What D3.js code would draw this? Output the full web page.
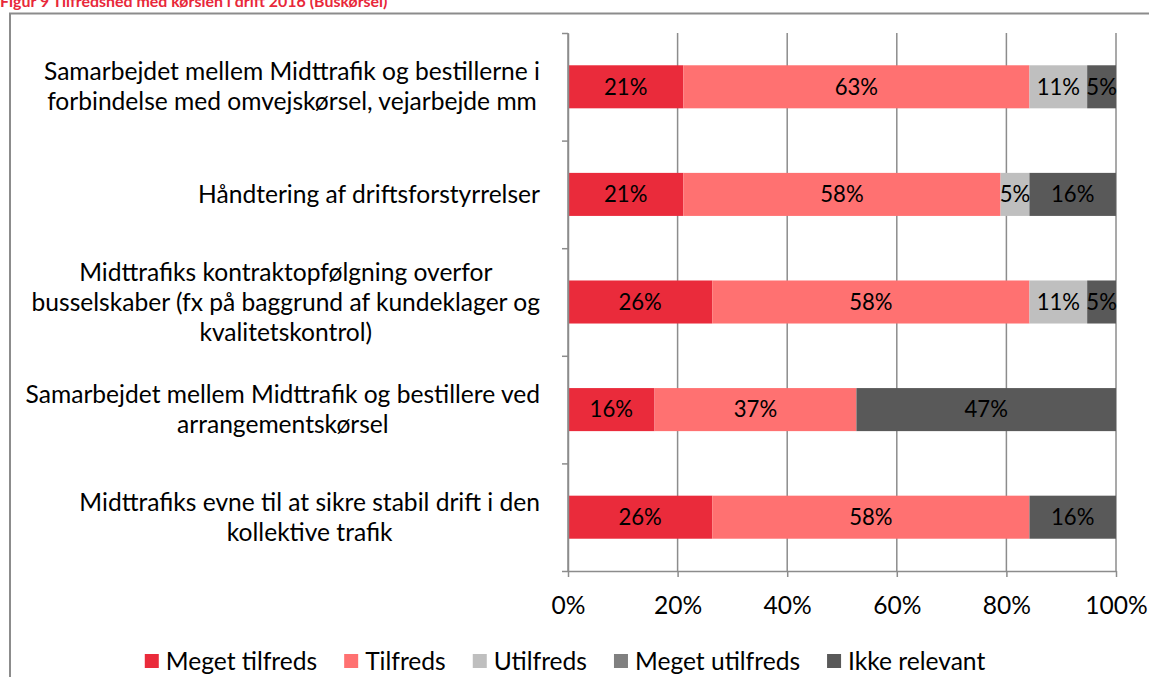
<!DOCTYPE html>
<html>
<head>
<meta charset="utf-8">
<script src="https://cdn.jsdelivr.net/npm/d3@7"></script>
<style>
  html, body { margin: 0; padding: 0; background: #fff; }
  svg { display: block; }
</style>
</head>
<body>
<svg id="chart" width="1149" height="677"></svg>
<script>
// ---- data ----
const titleText = "Figur 9 Tilfredshed med kørslen i drift 2016 (Buskørsel)";
const categories = [
  ["Samarbejdet mellem Midttrafik og bestillerne i", "forbindelse med omvejskørsel, vejarbejde mm"],
  ["Håndtering af driftsforstyrrelser"],
  ["Midttrafiks kontraktopfølgning overfor", "busselskaber (fx på baggrund af kundeklager og", "kvalitetskontrol)"],
  ["Samarbejdet mellem Midttrafik og bestillere ved", "arrangementskørsel"],
  ["Midttrafiks evne til at sikre stabil drift i den", "kollektive trafik"]
];
const seriesNames = ["Meget tilfreds", "Tilfreds", "Utilfreds", "Meget utilfreds", "Ikke relevant"];
const megetTilfreds  = [21.05, 21.05, 26.32, 15.79, 26.32];
const tilfreds       = [63.16, 57.89, 57.89, 36.84, 57.89];
const utilfreds      = [10.53,  5.26, 10.53,  0.00,  0.00];
const megetUtilfreds = [ 0.00,  0.00,  0.00,  0.00,  0.00];
const ikkeRelevant   = [ 5.26, 15.79,  5.26, 47.37, 15.79];
const xTicks = [0, 20, 40, 60, 80, 100];
const seriesColors = ["#EA2B3B", "#FF7171", "#BFBFBF", "#808080", "#595959"];

// ---- build ----
const seriesValues = [megetTilfreds, tilfreds, utilfreds, megetUtilfreds, ikkeRelevant];
const table = categories.map((c, i) => {
  const row = { idx: i };
  seriesNames.forEach((s, j) => row[s] = seriesValues[j][i]);
  return row;
});
const stacked = d3.stack().keys(seriesNames)(table);

const svg = d3.select("#chart");
const FONT = "Lato, 'Open Sans', sans-serif";

function fitSize(str, weight, target) {
  const t = svg.append("text").style("font-family", FONT).style("font-weight", weight)
    .style("font-size", "100px").text(str);
  const w = t.node().getComputedTextLength();
  t.remove();
  return 100 * target / w;
}
const baseSize = (fitSize("Håndtering af driftsforstyrrelser", 400, 343) + fitSize("Meget tilfreds", 400, 151)) / 2;
const labelSize = baseSize * 0.9;
const titleSize = fitSize(titleText, 700, 388);

const plot = { left: 568, right: 1116, top: 33, bottom: 571 };
const axisColor = "#8C8C8C";

// frame
svg.append("rect")
  .attr("x", 10).attr("y", 13.5).attr("width", 1200).attr("height", 700)
  .attr("fill", "none").attr("stroke", axisColor).attr("stroke-width", 2);

// title
svg.append("text")
  .attr("x", 0).attr("y", 6.5)
  .style("font-family", FONT).style("font-weight", 700).style("font-size", titleSize + "px")
  .attr("fill", "#E8283A")
  .text(titleText);

const x = d3.scaleLinear().domain([0, 100]).range([plot.left, plot.right]);
const y = d3.scaleBand().domain(d3.range(categories.length))
  .range([plot.top, plot.bottom]).paddingInner(0.6).paddingOuter(0.3);
const yb = d3.scaleLinear().domain([0, categories.length]).range([plot.top, plot.bottom]);

// gridlines
svg.append("g").selectAll("line").data(xTicks).join("line")
  .attr("x1", d => x(d)).attr("x2", d => x(d))
  .attr("y1", plot.top).attr("y2", plot.bottom)
  .attr("stroke", axisColor).attr("stroke-width", 1.5);

// bars
const layer = svg.append("g").selectAll("g").data(stacked).join("g")
  .attr("fill", (d, i) => seriesColors[i]);
layer.selectAll("rect").data(d => d).join("rect")
  .attr("x", d => x(d[0]))
  .attr("width", d => x(d[1]) - x(d[0]))
  .attr("y", d => y(d.data.idx))
  .attr("height", y.bandwidth());

// data labels
const labels = [];
stacked.forEach(s => s.forEach(d => { if (d[1] - d[0] > 0) labels.push(d); }));
svg.append("g").selectAll("text").data(labels).join("text")
  .attr("x", d => (x(d[0]) + x(d[1])) / 2)
  .attr("y", d => y(d.data.idx) + y.bandwidth() / 2)
  .attr("dy", "0.35em")
  .attr("text-anchor", "middle")
  .style("font-family", FONT).style("font-size", labelSize + "px")
  .attr("fill", "#000")
  .text(d => d3.format(".0f")(d[1] - d[0]) + "%");

// y axis
const yAxis = svg.append("g").attr("transform", `translate(${plot.left},0)`)
  .call(d3.axisLeft(yb).ticks(categories.length).tickSize(6).tickFormat("").tickSizeOuter(0));
yAxis.selectAll("path, line").attr("stroke", axisColor).attr("stroke-width", 1.5);

// x axis
const xAxis = svg.append("g").attr("transform", `translate(0,${plot.bottom})`)
  .call(d3.axisBottom(x).tickValues(xTicks).tickFormat(d => d + "%").tickSize(6).tickSizeOuter(0).tickPadding(20));
xAxis.selectAll("path, line").attr("stroke", axisColor).attr("stroke-width", 1.5);
xAxis.selectAll("text").style("font-family", FONT).style("font-size", baseSize + "px").attr("fill", "#000");

// category labels
const lineH = baseSize * 1.22;
const catG = svg.append("g");
categories.forEach((lines, i) => {
  const g = catG.append("g");
  const texts = lines.map(l => g.append("text")
    .style("font-family", FONT).style("font-size", baseSize + "px")
    .attr("fill", "#000").attr("text-anchor", "middle").text(l));
  const maxW = d3.max(texts, t => t.node().getComputedTextLength());
  const cx = plot.left - 28 - maxW / 2;
  const cy = y(i) + y.bandwidth() / 2;
  texts.forEach((t, k) => {
    t.attr("x", cx).attr("y", cy + (k - (lines.length - 1) / 2) * lineH).attr("dy", "0.35em");
  });
});

// legend
const legendG = svg.append("g");
const sq = 14, gapAfterSq = 7, gapItem = 27;
let cursor = 0;
const items = seriesNames.map((s, i) => {
  const g = legendG.append("g");
  g.append("rect").attr("x", 0).attr("y", -sq / 2).attr("width", sq).attr("height", sq).attr("fill", seriesColors[i]);
  const t = g.append("text").attr("x", sq + gapAfterSq).attr("dy", "0.35em")
    .style("font-family", FONT).style("font-size", baseSize + "px").attr("fill", "#000").text(s);
  const w = sq + gapAfterSq + t.node().getComputedTextLength();
  g.attr("transform", `translate(${cursor},0)`);
  cursor += w + gapItem;
  return g;
});
const totalW = cursor - gapItem;
legendG.attr("transform", `translate(${565 - totalW / 2},661)`);
</script>
</body>
</html>
